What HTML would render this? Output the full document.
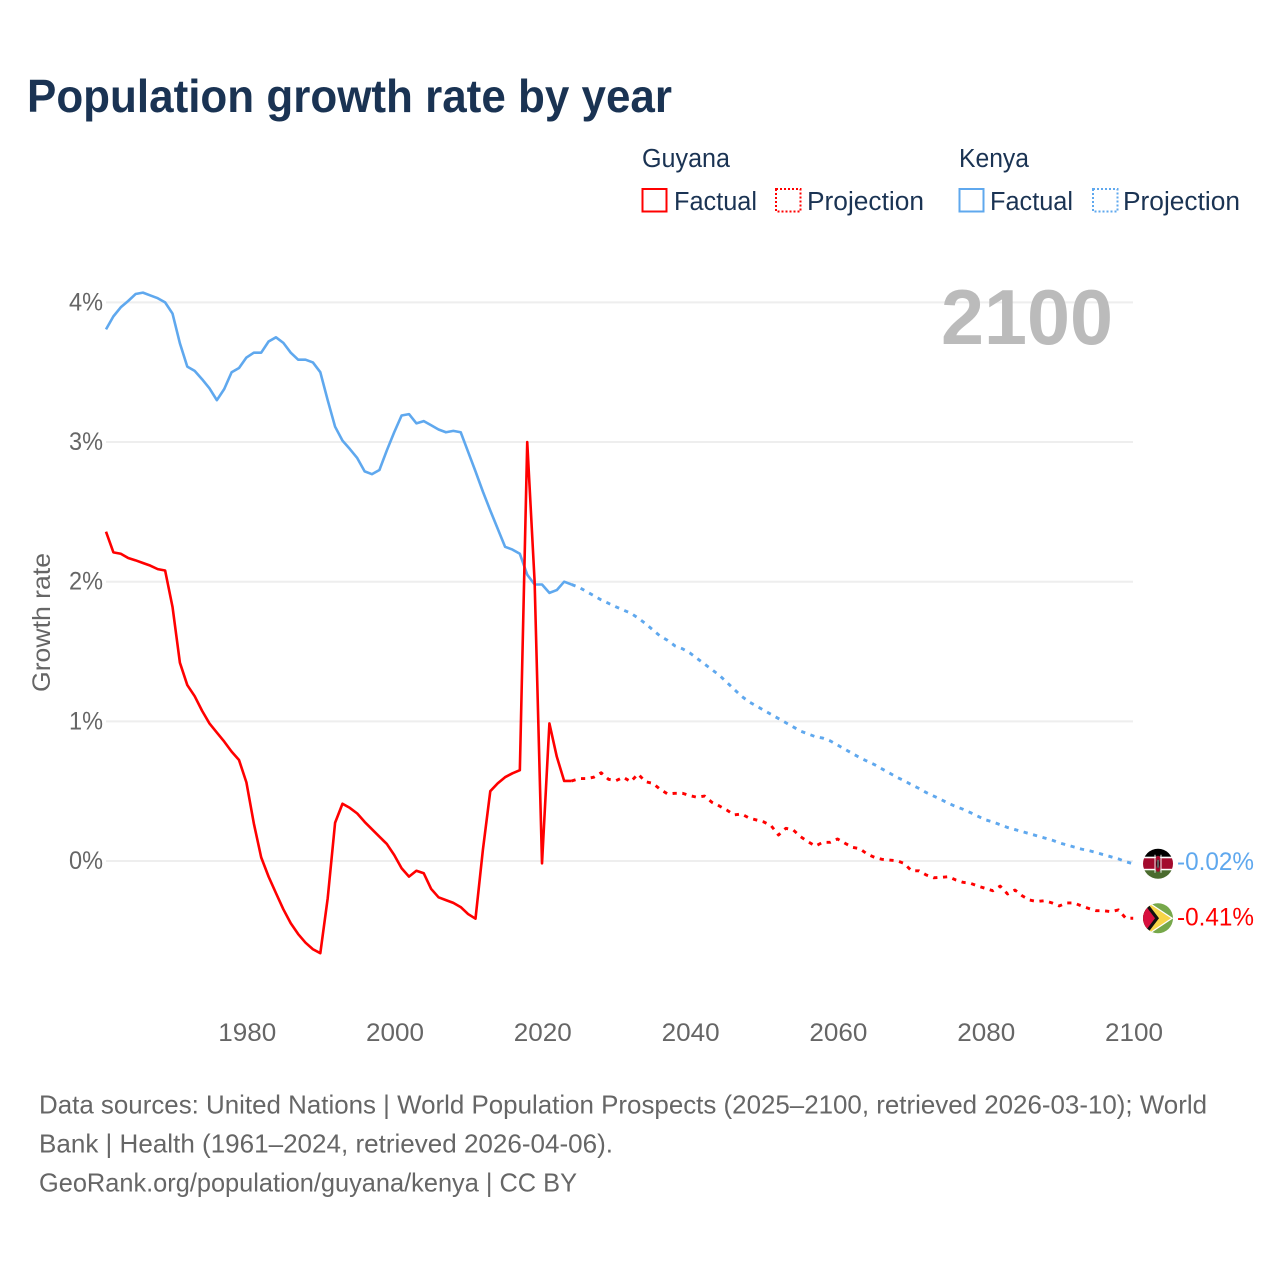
<!DOCTYPE html>
<html lang="en">
<head>
<meta charset="utf-8">
<title>Population growth rate by year</title>
<style>
  html,body{margin:0;padding:0;background:#fff;}
  svg{display:block;font-family:"Liberation Sans",sans-serif;}
</style>
</head>
<body>
<svg id="chart" width="1280" height="1280" viewBox="0 0 1280 1280" xmlns="http://www.w3.org/2000/svg">
  <defs>
    <clipPath id="clip-kenya"><circle id="clip-kenya-circle" cx="0" cy="0" r="15"/></clipPath>
    <clipPath id="clip-guyana"><circle id="clip-guyana-circle" cx="0" cy="0" r="15"/></clipPath>
  </defs>
  <rect width="1280" height="1280" fill="#ffffff"/>
  <text x="27" y="112" font-size="46" font-weight="700" fill="#1a3353" textLength="645" lengthAdjust="spacingAndGlyphs">Population growth rate by year</text>

  <g font-size="25.5" fill="#1a3353">
    <text x="642" y="167" textLength="88" lengthAdjust="spacingAndGlyphs">Guyana</text>
    <text x="959" y="167" textLength="70" lengthAdjust="spacingAndGlyphs">Kenya</text>
    <g>
      <rect x="642.5" y="189" width="24" height="22.5" fill="none" stroke="#ff0000" stroke-width="2"/>
      <text x="674" y="210" textLength="83" lengthAdjust="spacingAndGlyphs">Factual</text>
    </g>
    <g>
      <rect x="776" y="189" width="24.5" height="22.5" fill="none" stroke="#ff0000" stroke-width="2" stroke-dasharray="2 2"/>
      <text x="807" y="210" textLength="117" lengthAdjust="spacingAndGlyphs">Projection</text>
    </g>
    <g>
      <rect x="959.5" y="189" width="24" height="22.5" fill="none" stroke="#5fa8ee" stroke-width="2"/>
      <text x="990" y="210" textLength="83" lengthAdjust="spacingAndGlyphs">Factual</text>
    </g>
    <g>
      <rect x="1093" y="189" width="24.5" height="22.5" fill="none" stroke="#5fa8ee" stroke-width="2" stroke-dasharray="2 2"/>
      <text x="1123" y="210" textLength="117" lengthAdjust="spacingAndGlyphs">Projection</text>
    </g>
  </g>

  <g id="grid"></g>
  <g id="y-ticks" font-size="25" fill="#666666" text-anchor="end"></g>
  <g id="x-ticks" font-size="25" fill="#666666" text-anchor="middle"></g>
  <text transform="translate(50,622.5) rotate(-90)" text-anchor="middle" font-size="25" fill="#666666" textLength="139" lengthAdjust="spacingAndGlyphs">Growth rate</text>
  <text id="year-label" x="941" y="344" font-size="78" font-weight="700" fill="#bbbbbb" textLength="172" lengthAdjust="spacingAndGlyphs">2100</text>

  <g id="series"></g>

  <g id="flag-kenya">
    <g clip-path="url(#clip-kenya)">
      <rect x="-16" y="-16" width="32" height="9" fill="#000000"/>
      <rect x="-16" y="-7" width="32" height="14" fill="#ffffff"/>
      <rect x="-16" y="-5.5" width="32" height="10.5" fill="#a30a2d"/>
      <rect x="-16" y="6.5" width="32" height="10" fill="#4a6b2e"/>
      <ellipse cx="0" cy="0" rx="3.4" ry="8" fill="#a30a2d"/>
      <ellipse cx="0" cy="0" rx="1.6" ry="4.5" fill="#000000"/>
      <line x1="-3" y1="-9" x2="-3" y2="9" stroke="#eeeeee" stroke-width="1"/>
      <line x1="3" y1="-9" x2="3" y2="9" stroke="#eeeeee" stroke-width="1"/>
      <line x1="0" y1="-4" x2="0" y2="4" stroke="#eeeeee" stroke-width="0.8"/>
    </g>
  </g>
  <g id="flag-guyana">
    <g clip-path="url(#clip-guyana)">
      <rect x="-16" y="-16" width="32" height="32" fill="#76a84a"/>
      <polygon points="-20,-23.4 15.3,0 -20,23.4" fill="#ffffff"/>
      <polygon points="-20,-22 13,0 -20,22" fill="#f7d548"/>
      <polygon points="-15,-21 1,0 -15,21" fill="#111111"/>
      <polygon points="-15,-16 -3,0 -15,16" fill="#d8103f"/>
    </g>
  </g>
  <g id="end-labels" font-size="25"></g>

  <g font-size="26" fill="#666666">
    <text x="39" y="1113.5" textLength="1168" lengthAdjust="spacingAndGlyphs">Data sources: United Nations | World Population Prospects (2025–2100, retrieved 2026-03-10); World</text>
    <text x="39" y="1152.5" textLength="574" lengthAdjust="spacingAndGlyphs">Bank | Health (1961–2024, retrieved 2026-04-06).</text>
    <text x="39" y="1191.5" textLength="538" lengthAdjust="spacingAndGlyphs">GeoRank.org/population/guyana/kenya | CC BY</text>
  </g>
</svg>

<script>
// Data (growth rate in %)
const factualStartYear = 1961;
const projectionStartYear = 2024;
const kenyaFactual = [3.807,3.90,3.965,4.01,4.06,4.07,4.05,4.03,4.00,3.92,3.707,3.54,3.51,3.45,3.385,3.30,3.38,3.50,3.53,3.605,3.64,3.64,3.72,3.75,3.71,3.64,3.59,3.59,3.57,3.50,3.30,3.11,3.01,2.95,2.885,2.79,2.77,2.80,2.94,3.07,3.19,3.20,3.134,3.15,3.12,3.09,3.07,3.08,3.07,2.93,2.79,2.645,2.51,2.38,2.25,2.23,2.20,2.05,1.98,1.98,1.92,1.94,2.00,1.98];
const kenyaProjection = [1.98,1.96,1.93,1.90,1.87,1.845,1.82,1.797,1.775,1.74,1.70,1.655,1.61,1.58,1.54,1.52,1.49,1.45,1.41,1.37,1.33,1.28,1.23,1.18,1.14,1.11,1.08,1.05,1.02,0.99,0.96,0.93,0.91,0.89,0.88,0.86,0.83,0.80,0.77,0.74,0.715,0.69,0.66,0.63,0.60,0.575,0.546,0.52,0.49,0.465,0.44,0.413,0.39,0.37,0.346,0.32,0.295,0.28,0.26,0.24,0.225,0.21,0.195,0.18,0.165,0.15,0.13,0.115,0.10,0.085,0.075,0.06,0.045,0.03,0.015,-0.005,-0.02];
const guyanaFactual = [2.358,2.21,2.20,2.17,2.153,2.134,2.115,2.09,2.08,1.82,1.42,1.26,1.18,1.076,0.985,0.92,0.855,0.783,0.723,0.563,0.27,0.026,-0.112,-0.23,-0.346,-0.446,-0.523,-0.585,-0.632,-0.66,-0.267,0.274,0.41,0.38,0.34,0.28,0.227,0.174,0.122,0.043,-0.052,-0.112,-0.07,-0.088,-0.20,-0.26,-0.28,-0.30,-0.33,-0.38,-0.413,0.08,0.50,0.556,0.60,0.628,0.65,3.00,2.00,-0.017,0.985,0.747,0.573,0.573];
const guyanaProjection = [0.573,0.59,0.59,0.60,0.632,0.585,0.575,0.60,0.568,0.623,0.568,0.556,0.513,0.48,0.485,0.485,0.468,0.456,0.465,0.42,0.394,0.365,0.33,0.337,0.308,0.294,0.28,0.253,0.186,0.234,0.222,0.174,0.138,0.107,0.134,0.134,0.158,0.127,0.098,0.088,0.05,0.026,0.012,0.007,0.002,-0.017,-0.07,-0.07,-0.10,-0.12,-0.117,-0.112,-0.136,-0.153,-0.16,-0.18,-0.196,-0.213,-0.18,-0.236,-0.208,-0.25,-0.28,-0.29,-0.284,-0.30,-0.322,-0.30,-0.30,-0.322,-0.34,-0.356,-0.356,-0.363,-0.35,-0.41,-0.41];
const xTickYears = [1980,2000,2020,2040,2060,2080,2100];
const yTickValues = [0,1,2,3,4];
const yTickLabels = ['0%','1%','2%','3%','4%'];

const SVG_NS = 'http://www.w3.org/2000/svg';
const xScale = function (year) { return 106 + (year - 1961) * 7.39; };
const yScale = function (value) { return 861 - value * 139.65; };

function make(tag, parentId, attrs) {
  const el = document.createElementNS(SVG_NS, tag);
  for (const k in attrs) el.setAttribute(k, attrs[k]);
  document.getElementById(parentId).appendChild(el);
  return el;
}

// Gridlines and y ticks
yTickValues.forEach(function (v, i) {
  const line = make('line', 'grid', {x1: 106, x2: 1133, y1: yScale(v), y2: yScale(v), stroke: '#eeeeee', 'stroke-width': 2});
  
  
  const label = make('text', 'y-ticks', {x: 103, y: yScale(v) + 8, textLength: 34, lengthAdjust: 'spacingAndGlyphs'});
  
  
  label.textContent = yTickLabels[i];
});

// X ticks
xTickYears.forEach(function (year) {
  const label = make('text', 'x-ticks', {x: xScale(year) + 0.8, y: 1041, textLength: 58, lengthAdjust: 'spacingAndGlyphs'});
  
  
  label.textContent = String(year);
});

function linePoints(values, startYear) {
  return values.map(function (v, i) {
    return xScale(startYear + i).toFixed(2) + ',' + yScale(v).toFixed(2);
  }).join(' ');
}

function drawLine(values, startYear, color, dashed) {
  const attrs = {points: linePoints(values, startYear), fill: 'none', stroke: color, 'stroke-width': 2.6, 'stroke-linejoin': 'round'};
  if (dashed) {
    attrs['stroke-dasharray'] = '4.2 5.6';
    attrs['stroke-width'] = 2.9;
  }
  return make('polyline', 'series', attrs);
}

const kenyaProjectionLine = drawLine(kenyaProjection, projectionStartYear, '#5fa8ee', true);


const kenyaFactualLine = drawLine(kenyaFactual, factualStartYear, '#5fa8ee', false);


const guyanaProjectionLine = drawLine(guyanaProjection, projectionStartYear, '#ff0000', true);


const guyanaFactualLine = drawLine(guyanaFactual, factualStartYear, '#ff0000', false);



// End markers and labels follow the last values
const kenyaLast = kenyaProjection[kenyaProjection.length - 1];
const guyanaLast = guyanaProjection[guyanaProjection.length - 1];
const flagX = xScale(2100) + 24.8;
['kenya', 'guyana'].forEach(function (name) {
  const v = name === 'kenya' ? kenyaLast : guyanaLast;
  const t = 'translate(' + flagX + ',' + yScale(v) + ')';
  document.getElementById('flag-' + name).setAttribute('transform', t);
});

const kenyaValueLabel = make('text', 'end-labels', {x: 1177, y: yScale(kenyaLast) + 6, fill: '#5fa8ee', textLength: 77, lengthAdjust: 'spacingAndGlyphs'});


kenyaValueLabel.textContent = kenyaLast.toFixed(2) + '%';
const guyanaValueLabel = make('text', 'end-labels', {x: 1177, y: yScale(guyanaLast) + 7, fill: '#ff0000', textLength: 77, lengthAdjust: 'spacingAndGlyphs'});


guyanaValueLabel.textContent = guyanaLast.toFixed(2) + '%';
</script>
</body>
</html>
